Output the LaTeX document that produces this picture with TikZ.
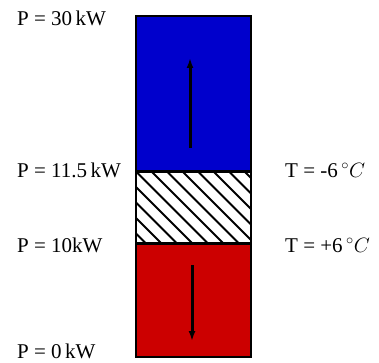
\documentclass[tikz,border=0pt]{standalone}
\usepackage{fontspec}
\setmainfont{Liberation Serif}
\usetikzlibrary{arrows.meta}

\definecolor{coldblue}{RGB}{0,0,204}
\definecolor{hotred}{RGB}{204,0,0}

\begin{document}
\begin{tikzpicture}[x=1pt, y=1pt,
    lbl/.style={anchor=base west, inner sep=0pt, font=\fontsize{21}{24}\selectfont},
    flow/.style={-{Latex[length=10pt,width=7pt]}, line width=3pt}]

    \useasboundingbox (0,0) rectangle (379,362);

    % Layers of the column
    \fill[coldblue] (136,190.5) rectangle (251,346);
    \fill[hotred] (136,5) rectangle (251,118.5);

    % Hatched layer
    \begin{scope}
        \clip (136,118.5) rectangle (251,190.5);
        \foreach \i in {-6,...,8}
            \draw[line width=2pt] (136+15.5*\i,190.5) -- ++(72,-72);
    \end{scope}

    % Borders
    \draw[line width=2pt] (136,5) rectangle (251,346);
    \draw[line width=3pt] (136,190.5) -- (251,190.5);
    \draw[line width=3pt] (136,118.5) -- (251,118.5);

    % Arrows
    \coordinate (up1) at (190,214);
    \coordinate (up2) at (190,304);
    \coordinate (dn1) at (192,97);
    \coordinate (dn2) at (192,21);
    \draw[flow] (up1) -- (up2);
    \draw[flow] (dn1) -- (dn2);

    % Power labels
    \node[lbl] (p30) at (17,336) {P = 30\,kW};
    \node[lbl] (p115) at (17,185) {P = 11.5\,kW};
    \node[lbl] (p10) at (17,110) {P = 10kW};
    \node[lbl] (p0) at (17,4) {P = 0\,kW};

    % Temperature labels
    \node[lbl] (tm6) at (285,185) {T = -6$\,^\circ C$};
    \node[lbl] (tp6) at (285,110) {T = +6$\,^\circ C$};

\end{tikzpicture}
\end{document}
